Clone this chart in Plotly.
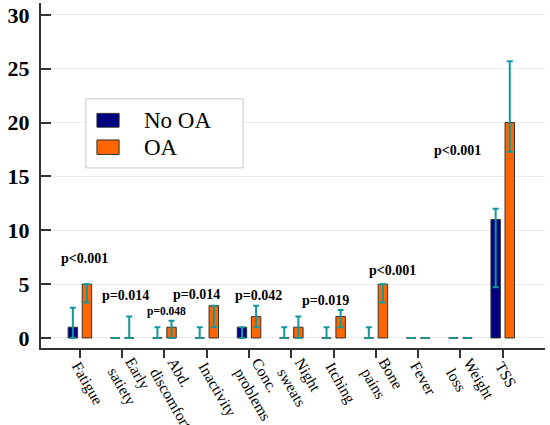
import plotly.graph_objects as go

# symptom categories (medians with IQR)
categories = ['Fatigue', 'Early<br>satiety', 'Abd.<br>discomfort', 'Inactivity',
              'Conc.<br>problems', 'Night<br>sweats', 'Itching', 'Bone<br>pains',
              'Fever', 'Weight<br>loss', 'TSS']

no_oa_median = [1, 0, 0, 0, 1, 0, 0, 0, 0, 0, 11]
no_oa_q3 = [2.8, 0, 1, 1, 1, 1, 1, 1, 0, 0, 12]
no_oa_q1 = [0, 0, 0, 0, 0, 0, 0, 0, 0, 0, 4.7]

oa_median = [5, 0, 1, 3, 2, 1, 2, 5, 0, 0, 20]
oa_q3 = [5, 2, 1.6, 3, 3, 2, 2.6, 5, 0, 0, 25.7]
oa_q1 = [3.3, 0, 0, 1, 1, 0, 1, 3.3, 0, 0, 17.3]

# p-values and where they sit (category index, y value)
p_texts = ['p<0.001', 'p=0.014', 'p=0.048', 'p=0.014', 'p=0.042', 'p=0.019', 'p<0.001', 'p<0.001']
p_x = [0.1, 1.08, 2.05, 2.76, 4.22, 5.82, 7.39, 8.93]
p_y = [7.4, 3.9, 2.45, 4.0, 3.95, 3.5, 6.3, 17.4]
p_size = [14, 14, 11.5, 14, 14, 14, 14, 14]

teal = '#11999a'
serif = 'Liberation Serif, Times New Roman, serif'


def err(median, q3, q1):
    return dict(type='data', symmetric=False,
                array=[h - m for h, m in zip(q3, median)],
                arrayminus=[m - l for m, l in zip(median, q1)],
                color=teal, thickness=2, width=3)


fig = go.Figure()
fig.add_trace(go.Bar(x=categories, y=no_oa_median, name='No OA',
                     marker=dict(color='#000080', line=dict(color='#333333', width=1)),
                     error_y=err(no_oa_median, no_oa_q3, no_oa_q1)))
fig.add_trace(go.Bar(x=categories, y=oa_median, name='OA',
                     marker=dict(color='#ff6600', line=dict(color='#333333', width=1)),
                     error_y=err(oa_median, oa_q3, oa_q1)))

for t, x, y, s in zip(p_texts, p_x, p_y, p_size):
    fig.add_annotation(x=x, y=y, text=t, showarrow=False,
                       font=dict(family=serif, size=s, color='black', weight='bold'))

# slanted category labels, placed by hand so they hang off the ticks like the original
for i, lab in enumerate(categories):
    nlines = lab.count('<br>') + 1
    fig.add_annotation(x=i - 0.33 - 0.15 * (nlines - 1), y=-0.024 + 0.012 * (nlines - 1),
                       xref='x', yref='paper',
                       text=lab, showarrow=False, textangle=60, align='left',
                       xanchor='left', yanchor='top',
                       font=dict(family=serif, size=15.5, color='black'))

# legend drawn by hand so the swatches keep their wide shape
fig.add_shape(type='rect', xref='paper', yref='paper', x0=0.089, x1=0.401, y0=0.522, y1=0.722,
              line=dict(color='#c8c8c8', width=1), fillcolor='white', layer='above')
fig.add_shape(type='rect', xref='paper', yref='paper', x0=0.111, x1=0.155, y0=0.640, y1=0.680,
              line=dict(color='#333333', width=1), fillcolor='#000080', layer='above')
fig.add_shape(type='rect', xref='paper', yref='paper', x0=0.111, x1=0.155, y0=0.561, y1=0.603,
              line=dict(color='#333333', width=1), fillcolor='#ff6600', layer='above')
fig.add_annotation(xref='paper', yref='paper', x=0.2, y=0.659, xanchor='left', yanchor='middle',
                   text='No OA', showarrow=False, font=dict(family=serif, size=23, color='black'))
fig.add_annotation(xref='paper', yref='paper', x=0.2, y=0.580, xanchor='left', yanchor='middle',
                   text='OA', showarrow=False, font=dict(family=serif, size=23, color='black'))

fig.update_layout(
    width=550, height=425,
    margin=dict(l=41, r=5, t=3, b=77),
    plot_bgcolor='white', paper_bgcolor='white',
    barmode='group', bargap=0.333, bargroupgap=0.33,
    showlegend=False,
    font=dict(family=serif, color='black'),
)
fig.update_xaxes(
    range=[-0.92, 11.0], showline=True, linecolor='#333333', linewidth=2,
    ticks='outside', ticklen=8, tickcolor='#333333', tickwidth=1.5,
    showticklabels=False, showgrid=False, automargin=False,
)
fig.update_yaxes(
    range=[-0.93, 31.1], tickvals=[0, 5, 10, 15, 20, 25, 30],
    showline=True, linecolor='#333333', linewidth=2,
    ticks='inside', ticklen=10, tickcolor='#333333', tickwidth=1.5,
    tickfont=dict(family=serif, size=22, color='black', weight='bold'),
    showgrid=True, gridcolor='#ececec', gridwidth=1, zeroline=False,
    ticklabelstandoff=5, automargin=False,
)

# the page body has a default margin; drop it so the figure sits at the window corner
fig.write_html('out.html', config={'displayModeBar': False},
               post_script="document.body.style.margin='0';")
